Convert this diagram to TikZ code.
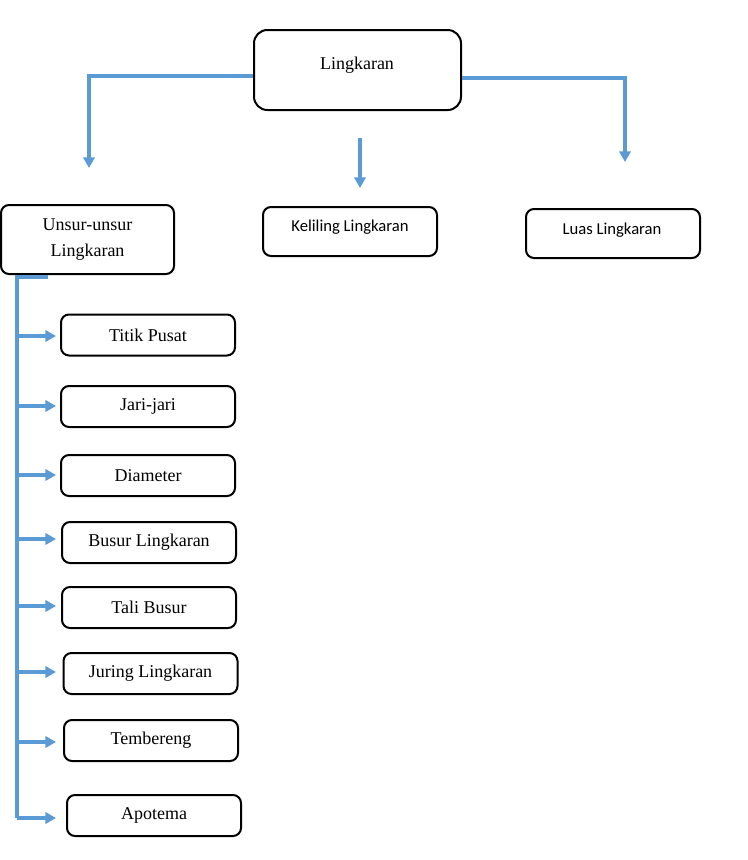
\documentclass[tikz,border=0pt]{standalone}
\usepackage{fontspec}
\setmainfont{Liberation Serif}
\newfontfamily\calib{Carlito}
\usetikzlibrary{arrows.meta}
\definecolor{conncol}{RGB}{91,155,213}
\tikzset{
  box/.style={draw=black, line width=1.5pt, rounded corners=6pt, minimum width=130.5pt, minimum height=30.75pt, inner sep=0pt, align=center, font=\fontsize{13.5}{17}\selectfont},
  sbox/.style={box, minimum height=36.75pt},
  conn/.style={draw=conncol, line width=2.3pt, -{Triangle[length=8pt,width=8.5pt]}},
  plain/.style={draw=conncol, line width=2.3pt},
  lbl/.style={inner sep=0pt, font=\fontsize{13.5}{17}\selectfont},
  slbl/.style={inner sep=0pt, font=\calib\fontsize{12.5}{15}\selectfont}
}
\begin{document}
\begin{tikzpicture}[x=0.75pt,y=-0.75pt]
\useasboundingbox (0,0) rectangle (747,860);
% top
\node[box, minimum width=155.25pt, minimum height=60pt, rounded corners=10pt] (root) at (357.5,70) {};
\node[lbl] (roottxt) at (357,65) {Lingkaran};
\node[box, minimum width=129.75pt, minimum height=51.75pt, font=\fontsize{13.5}{19}\selectfont] (unsur) at (87.5,239.5) {Unsur-unsur\\Lingkaran};
\node[sbox] (kel) at (350,231.5) {};
\node[slbl] (keltxt) at (350,227) {Keliling Lingkaran};
\node[sbox] (luas) at (613,233.5) {};
\node[slbl] (luastxt) at (612,230) {Luas Lingkaran};
% arrows from root
\coordinate (la) at (89,168);
\coordinate (ma0) at (360,138);
\coordinate (ma) at (360,188);
\coordinate (ra) at (625,162);
\draw[conn] (root.west |- 0,76) -| (la);
\draw[conn] (ma0) -- (ma);
\draw[conn] (root.east |- 0,78) -| (ra);
% children
\node[box] (c1) at (148,335) {Titik Pusat};
\node[box] (c2) at (148,406.5) {Jari-jari};
\node[box] (c3) at (148,475.5) {Diameter};
\node[box] (c4) at (149,542.5) {Busur Lingkaran};
\node[box] (c5) at (149,607.5) {Tali Busur};
\node[box] (c6) at (150.5,673.5) {Juring Lingkaran};
\node[box] (c7) at (151,740.5) {Tembereng};
\node[box] (c8) at (154,815.5) {Apotema};
% trunk
\coordinate (ts) at (48,277);
\coordinate (tt) at (17,277);
\coordinate (tb) at (17,818);
\draw[plain] (ts) -- (tt) -- (tb);
\foreach \n/\y in {c1/336,c2/406,c3/475,c4/539,c5/606,c6/672,c7/742,c8/818}{
  \coordinate (s\n) at (17,\y);
  \coordinate (e\n) at (56,\y);
  \draw[conn] (s\n) -- (e\n);
}
\end{tikzpicture}
\end{document}
